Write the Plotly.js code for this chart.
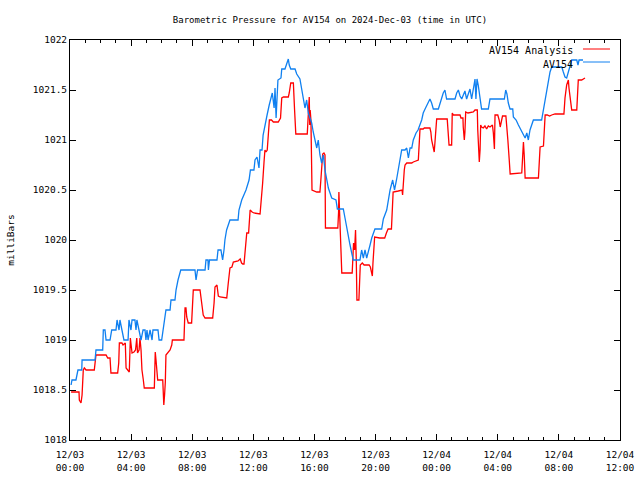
<!DOCTYPE html>
<html>
<head>
<meta charset="utf-8">
<script src="https://cdn.plot.ly/plotly-3.0.1.min.js"></script>
<style>html,body{margin:0;padding:0;background:#fff;}#chart{width:640px;height:480px;}</style>
</head>
<body>
<div id="chart"></div>
<script>
// Hours since 2024-12-03 00:00 UTC and pressure (mb)
const analysisHours = [0.07,0.59,0.61,0.72,0.79,0.87,0.94,1.05,1.59,1.70,2.36,2.47,2.62,2.68,3.12,3.19,3.23,3.40,3.47,3.62,3.67,3.80,3.88,3.95,4.06,4.19,4.29,4.37,4.42,4.52,4.58,4.65,4.71,4.80,4.86,5.52,5.58,5.63,5.67,5.74,6.07,6.14,6.19,6.24,6.28,6.37,6.55,6.66,6.70,7.46,7.53,7.59,7.64,7.74,7.96,8.07,8.51,8.62,8.72,8.84,9.34,9.43,9.49,9.62,9.71,9.82,10.26,10.36,10.47,10.60,10.69,11.00,11.14,11.23,11.31,11.39,11.46,11.57,11.69,11.74,11.79,11.92,12.04,12.44,12.50,12.55,12.61,12.70,12.76,12.83,12.91,12.98,13.05,13.19,13.31,13.63,13.78,13.86,13.97,14.29,14.35,14.45,14.62,14.70,14.78,15.53,15.60,15.66,15.69,15.72,15.77,15.80,15.84,16.15,16.36,16.41,16.47,16.54,16.62,16.69,16.72,17.53,17.58,17.60,17.64,17.75,17.79,18.47,18.51,18.56,18.63,18.69,18.74,18.78,18.91,18.95,19.00,19.13,19.25,19.35,19.58,19.66,19.73,19.79,19.83,19.90,19.94,20.27,20.60,20.71,20.82,21.04,21.11,21.15,21.49,21.73,21.77,21.81,21.88,21.93,22.04,22.37,22.47,22.80,22.82,22.86,22.91,23.12,23.19,23.56,23.62,23.67,23.78,23.84,23.89,23.93,24.00,24.69,24.76,24.81,24.98,25.02,25.10,25.53,25.59,25.72,25.74,25.81,25.85,25.90,26.05,26.40,26.51,26.66,26.69,26.77,26.79,26.84,26.88,26.94,27.05,27.16,27.27,27.38,27.49,27.65,27.71,27.78,27.82,28.00,28.09,28.16,28.22,28.31,28.53,28.60,28.66,28.75,28.81,29.57,29.64,29.68,29.73,29.79,30.66,30.73,30.77,30.99,31.04,31.10,31.24,31.39,31.53,31.75,32.33,32.40,32.51,32.55,32.62,32.66,32.77,32.84,33.17,33.23,33.27,33.49,33.58,33.71];
const analysisMb = [1018.48,1018.48,1018.40,1018.37,1018.45,1018.70,1018.72,1018.70,1018.70,1018.85,1018.85,1018.82,1018.82,1018.67,1018.67,1018.77,1018.97,1018.97,1018.95,1018.97,1018.72,1018.70,1018.68,1019.02,1018.87,1018.88,1018.90,1019.02,1018.87,1018.90,1019.02,1018.90,1018.70,1018.60,1018.52,1018.52,1018.88,1018.80,1018.68,1018.60,1018.60,1018.35,1018.45,1018.58,1018.85,1018.87,1018.90,1018.95,1019.00,1019.00,1019.32,1019.32,1019.23,1019.17,1019.17,1019.50,1019.50,1019.37,1019.25,1019.22,1019.22,1019.37,1019.53,1019.55,1019.44,1019.43,1019.42,1019.57,1019.72,1019.73,1019.78,1019.79,1019.81,1019.77,1019.76,1019.76,1019.90,1020.07,1020.07,1020.18,1020.30,1020.28,1020.27,1020.26,1020.35,1020.47,1020.57,1020.78,1020.90,1020.88,1020.90,1021.05,1021.20,1021.20,1021.18,1021.18,1021.22,1021.42,1021.43,1021.43,1021.47,1021.57,1021.57,1021.30,1021.06,1021.06,1021.33,1021.43,1021.15,1021.30,1021.20,1020.80,1020.50,1020.48,1020.48,1020.58,1020.75,1020.86,1020.87,1020.85,1020.12,1020.12,1020.28,1020.48,1020.30,1019.88,1019.67,1019.67,1019.80,1019.97,1019.90,1020.10,1019.78,1019.40,1019.40,1019.67,1019.75,1019.77,1019.75,1019.75,1019.75,1019.73,1019.66,1019.64,1019.77,1019.95,1020.03,1020.02,1020.02,1020.07,1020.11,1020.11,1020.28,1020.48,1020.49,1020.50,1020.45,1020.60,1020.70,1020.75,1020.77,1020.77,1020.78,1020.80,1020.90,1021.05,1021.11,1021.11,1021.12,1021.12,1021.08,1021.00,1020.92,1020.88,1020.98,1021.08,1021.21,1021.21,1021.08,1020.95,1020.95,1021.27,1021.25,1021.25,1021.22,1021.22,1021.13,1021.00,1021.08,1021.28,1021.27,1021.28,1021.30,1021.30,1021.10,1020.90,1020.78,1020.90,1021.15,1021.13,1021.12,1021.14,1021.11,1021.14,1021.13,1021.15,1021.07,1020.91,1021.25,1021.25,1021.20,1021.13,1021.18,1021.24,1021.24,1021.13,1021.00,1020.80,1020.66,1020.67,1020.88,1020.98,1020.85,1020.62,1020.62,1020.78,1020.93,1020.94,1021.08,1021.25,1021.25,1021.24,1021.25,1021.26,1021.26,1021.42,1021.55,1021.58,1021.60,1021.52,1021.35,1021.30,1021.30,1021.45,1021.60,1021.60,1021.61,1021.62];

const av154Hours = [0.07,0.13,0.39,0.46,0.52,0.77,0.79,1.64,1.70,2.14,2.18,2.29,2.36,2.62,2.73,3.01,3.08,3.21,3.27,3.40,3.53,3.80,3.86,3.99,4.06,4.25,4.32,4.38,4.52,4.65,4.78,4.91,4.97,5.04,5.11,5.24,5.37,5.43,5.76,5.83,6.00,6.09,6.22,6.28,6.55,6.61,6.87,6.94,7.07,7.25,8.18,8.25,8.35,8.84,8.90,9.03,9.06,9.13,9.62,9.69,9.88,9.99,10.08,10.14,10.25,10.47,11.00,11.06,11.24,11.52,11.72,11.81,12.04,12.11,12.24,12.30,12.37,12.44,12.57,12.64,12.77,12.90,13.04,13.15,13.24,13.36,13.42,13.49,13.55,13.61,13.81,13.86,14.07,14.21,14.29,14.35,14.45,14.73,14.84,15.05,15.16,15.27,15.38,15.49,15.60,15.71,15.82,15.92,16.04,16.15,16.25,16.36,16.47,16.58,16.69,16.80,16.91,17.13,17.41,17.50,17.89,18.00,18.11,18.22,18.33,18.44,18.54,18.98,19.09,19.20,19.31,19.42,19.53,19.64,19.75,19.96,20.40,20.51,20.73,20.83,20.95,21.12,21.24,21.37,21.49,21.60,21.71,21.93,22.04,22.15,22.26,22.37,22.47,22.65,22.78,23.02,23.12,23.24,23.45,23.56,23.67,23.78,24.11,24.22,24.33,24.43,24.54,24.65,25.20,25.31,25.42,25.53,25.64,25.75,25.85,25.96,26.07,26.18,26.29,26.40,26.51,26.57,26.64,26.72,26.83,26.94,27.38,27.49,28.43,28.52,28.60,28.69,28.80,28.98,29.02,29.20,29.35,29.46,29.57,29.68,29.79,29.90,30.00,30.11,30.22,30.33,30.87,30.98,31.09,31.20,31.31,31.42,31.53,32.19,32.29,32.40,32.51,32.62,32.73,32.84,33.17,33.25,33.32,33.58];
const av154Mb = [1018.55,1018.60,1018.60,1018.65,1018.70,1018.70,1018.80,1018.80,1018.90,1018.90,1019.10,1019.10,1019.00,1019.00,1019.10,1019.10,1019.20,1019.10,1019.20,1019.10,1019.00,1019.00,1019.20,1019.10,1019.20,1019.20,1019.10,1019.20,1019.10,1019.00,1019.10,1019.10,1019.00,1019.10,1019.00,1019.10,1019.00,1019.10,1019.10,1019.00,1019.00,1019.10,1019.25,1019.30,1019.30,1019.40,1019.40,1019.50,1019.60,1019.70,1019.70,1019.60,1019.70,1019.70,1019.80,1019.80,1019.70,1019.80,1019.80,1019.90,1019.90,1019.80,1019.90,1020.00,1020.10,1020.20,1020.20,1020.30,1020.40,1020.50,1020.60,1020.70,1020.70,1020.80,1020.83,1020.75,1020.72,1020.90,1020.90,1021.05,1021.17,1021.25,1021.35,1021.42,1021.47,1021.32,1021.52,1021.22,1021.52,1021.60,1021.62,1021.71,1021.71,1021.77,1021.81,1021.75,1021.71,1021.71,1021.66,1021.61,1021.52,1021.42,1021.32,1021.40,1021.27,1021.22,1021.17,1021.08,1021.00,1020.92,1021.00,1020.85,1020.77,1020.85,1020.70,1020.62,1020.52,1020.42,1020.40,1020.31,1020.31,1020.22,1020.12,1020.03,1019.95,1019.87,1019.80,1019.80,1019.90,1019.82,1019.90,1019.82,1019.90,1019.95,1020.02,1020.11,1020.11,1020.21,1020.30,1020.40,1020.50,1020.60,1020.50,1020.60,1020.70,1020.80,1020.90,1020.90,1020.92,1020.82,1020.92,1020.92,1021.00,1021.07,1021.10,1021.20,1021.27,1021.31,1021.37,1021.41,1021.37,1021.31,1021.31,1021.37,1021.41,1021.47,1021.50,1021.41,1021.41,1021.47,1021.50,1021.44,1021.41,1021.45,1021.49,1021.41,1021.47,1021.51,1021.41,1021.51,1021.61,1021.41,1021.61,1021.55,1021.44,1021.31,1021.31,1021.41,1021.41,1021.50,1021.46,1021.37,1021.31,1021.31,1021.23,1021.20,1021.15,1021.12,1021.09,1021.05,1021.02,1021.07,1021.00,1021.10,1021.15,1021.20,1021.20,1021.30,1021.40,1021.52,1021.60,1021.68,1021.73,1021.73,1021.68,1021.63,1021.62,1021.68,1021.73,1021.80,1021.80,1021.75,1021.80,1021.80];

const seriesNames = ['AV154 Analysis', 'AV154'];
const seriesColors = ['#ff0000', '#1080f0'];
const tickHours = [0,4,8,12,16,20,24,28,32,36];
const tickLabels = ['12/03<br>00:00','12/03<br>04:00','12/03<br>08:00','12/03<br>12:00','12/03<br>16:00','12/03<br>20:00','12/04<br>00:00','12/04<br>04:00','12/04<br>08:00','12/04<br>12:00'];

const base = Date.UTC(2024, 11, 3, 0, 0, 0);
function toDate(h) {
  return new Date(base + Math.round(h * 3600000)).toISOString().slice(0, 19).replace('T', ' ');
}

const mono = 'DejaVu Sans Mono, Liberation Mono, monospace';

const traces = [
  {x: analysisHours.map(toDate), y: analysisMb, type: 'scatter', mode: 'lines', name: seriesNames[0],
   line: {color: seriesColors[0], width: 1.3}},
  {x: av154Hours.map(toDate), y: av154Mb, type: 'scatter', mode: 'lines', name: seriesNames[1],
   line: {color: seriesColors[1], width: 1.3}}
];

const layout = {
  width: 640, height: 480,
  margin: {l: 70, r: 20, t: 40, b: 40},
  paper_bgcolor: '#ffffff', plot_bgcolor: '#ffffff',
  showlegend: false,
  hovermode: false,
  font: {family: mono, size: 9, color: '#000'},
  title: {text: 'Barometric Pressure for AV154 on 2024-Dec-03 (time in UTC)',
          font: {family: mono, size: 9, color: '#000'},
          x: 0.5156, xanchor: 'center', y: 0.958, yanchor: 'middle'},
  xaxis: {
    type: 'date',
    range: [toDate(0), toDate(36)],
    tickvals: tickHours.map(toDate), ticktext: tickLabels,
    ticks: 'inside', ticklen: 6, tickcolor: '#000', tickwidth: 1,
    minor: {dtick: 3600000, ticks: 'inside', ticklen: 3, tickcolor: '#000', showgrid: false},
    showline: true, linecolor: '#000', linewidth: 1, mirror: 'allticks',
    showgrid: false, zeroline: false,
    ticklabelstandoff: 6,
    tickfont: {family: mono, size: 9.5, color: '#000'}
  },
  yaxis: {
    range: [1018, 1022],
    tickvals: [1018,1018.5,1019,1019.5,1020,1020.5,1021,1021.5,1022],
    ticktext: ['1018','1018.5','1019','1019.5','1020','1020.5','1021','1021.5','1022'],
    ticks: 'inside', ticklen: 6, tickcolor: '#000', tickwidth: 1,
    showline: true, linecolor: '#000', linewidth: 1, mirror: 'allticks',
    showgrid: false, zeroline: false,
    tickfont: {family: mono, size: 9.5, color: '#000'},
    title: {text: 'milliBars', font: {family: mono, size: 9.5, color: '#000'}, standoff: 16}
  },
  annotations: [
    {xref: 'paper', yref: 'paper', x: 0.918, y: 0.9725, xanchor: 'right', yanchor: 'middle',
     text: seriesNames[0], showarrow: false, font: {family: mono, size: 10, color: '#000'}},
    {xref: 'paper', yref: 'paper', x: 0.918, y: 0.94, xanchor: 'right', yanchor: 'middle',
     text: seriesNames[1], showarrow: false, font: {family: mono, size: 10, color: '#000'}}
  ],
  shapes: [
    {type: 'line', xref: 'paper', yref: 'paper', x0: 0.9327, x1: 0.9818, y0: 0.9775, y1: 0.9775,
     line: {color: seriesColors[0], width: 1}},
    {type: 'line', xref: 'paper', yref: 'paper', x0: 0.9327, x1: 0.9818, y0: 0.945, y1: 0.945,
     line: {color: seriesColors[1], width: 1}}
  ]
};

Plotly.newPlot('chart', traces, layout, {displayModeBar: false, staticPlot: true});
</script>
</body>
</html>
